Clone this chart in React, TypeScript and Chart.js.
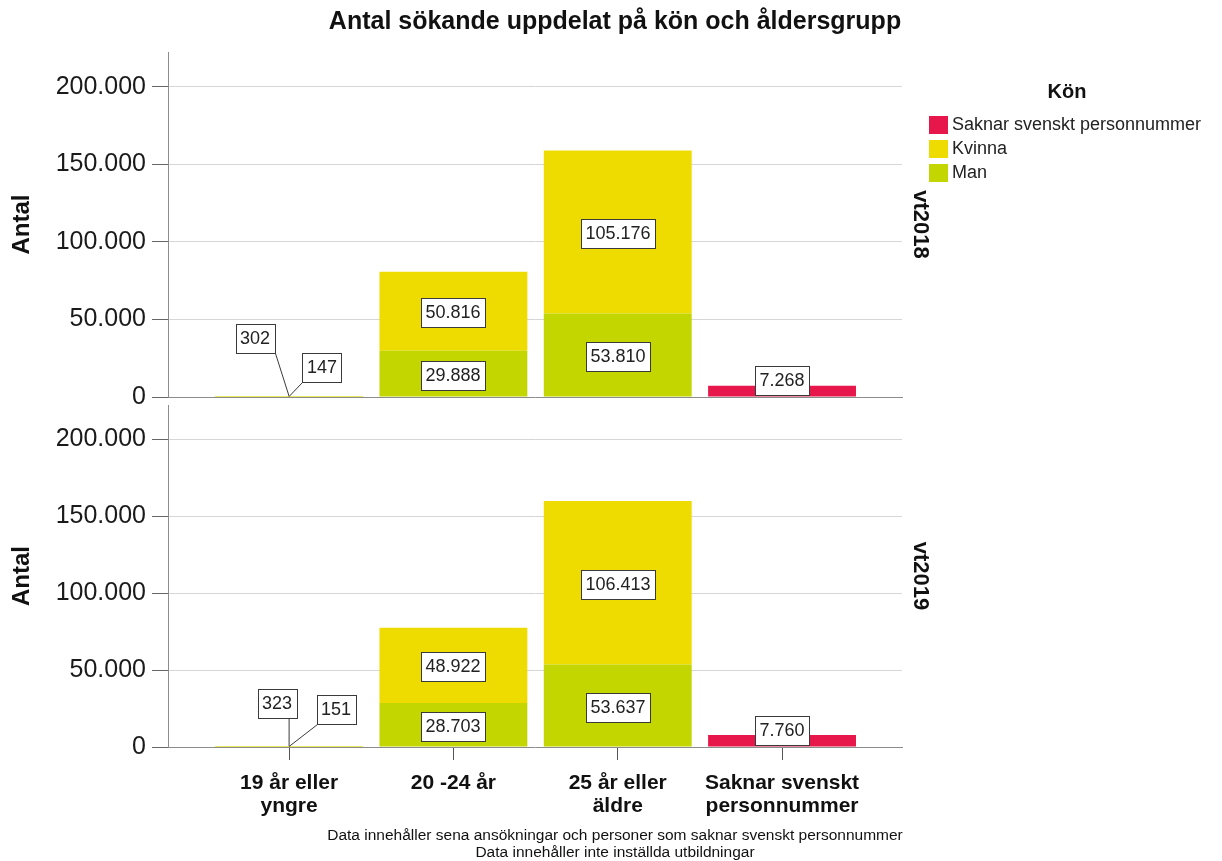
import React, { useEffect, useRef } from 'react';
import { Chart, registerables } from 'chart.js';

Chart.register(...registerables);

const FONT = "'Liberation Sans', Arial, Helvetica, sans-serif";
Chart.defaults.font.family = FONT;
Chart.defaults.color = '#111111';

// ---------- data ----------
const chartTitle = 'Antal sökande uppdelat på kön och åldersgrupp';
const footnote = [
  'Data innehåller sena ansökningar och personer som saknar svenskt personnummer',
  'Data innehåller inte inställda utbildningar',
];
const categories = [
  ['19 år eller', 'yngre'],
  ['20 -24 år'],
  ['25 år eller', 'äldre'],
  ['Saknar svenskt', 'personnummer'],
];
const panels = ['vt2018', 'vt2019'];
const yAxisTitle = 'Antal';
const legendTitle = 'Kön';
const seriesNames = ['Man', 'Kvinna', 'Saknar svenskt personnummer'];
const seriesColors = ['#C4D600', '#EEDB00', '#E8174B'];
const yTicks = [0, 50000, 100000, 150000, 200000];
const yMax = 222500;

const man2018 = [147, 29888, 53810, null];
const kvinna2018 = [302, 50816, 105176, null];
const saknar2018 = [null, null, null, 7268];
const man2019 = [151, 28703, 53637, null];
const kvinna2019 = [323, 48922, 106413, null];
const saknar2019 = [null, null, null, 7760];

const panelSeries = [
  [man2018, kvinna2018, saknar2018],
  [man2019, kvinna2019, saknar2019],
];

// ---------- helpers ----------
function fmt(v: number): string {
  return String(Math.round(v)).replace(/\B(?=(\d{3})+(?!\d))/g, '.');
}

function toPoints(arr: (number | null)[]) {
  const out: { x: number; y: number }[] = [];
  arr.forEach((v, i) => {
    if (v != null) out.push({ x: i, y: v });
  });
  return out;
}

const boxLabels = {
  id: 'boxLabels',
  afterDatasetsDraw(chart: any, _args: any, opts: any) {
    const { ctx, chartArea } = chart;
    ctx.save();
    ctx.font = `${opts.fontSize}px ${FONT}`;
    ctx.textAlign = 'center';
    ctx.textBaseline = 'middle';
    ctx.lineWidth = 1;
    chart.data.datasets.forEach((ds: any, di: number) => {
      const meta = chart.getDatasetMeta(di);
      if (meta.hidden) return;
      meta.data.forEach((el: any, i: number) => {
        const pt = ds.data[i];
        if (!pt) return;
        const text = fmt(pt.y);
        const w = Math.round(ctx.measureText(text).width + 2 * opts.padX);
        const h = opts.boxH;
        const top = Math.min(el.y, el.base);
        const bottom = Math.max(el.y, el.base);
        const off = opts.callouts[di + ':' + i];
        let cx = el.x;
        let cy;
        if (off) {
          cx = el.x + off[0];
          cy = top + off[1];
        } else {
          cy = (top + bottom) / 2 + opts.shiftY;
          cy = Math.min(cy, chartArea.bottom - opts.minGap - h / 2);
        }
        const bx = Math.round(cx - w / 2) + 0.5;
        const by = Math.round(cy - h / 2) + 0.5;
        if (off) {
          const ax = el.x;
          const ay = top;
          const sx = Math.max(bx, Math.min(ax, bx + w));
          const sy = Math.max(by, Math.min(ay, by + h));
          ctx.strokeStyle = opts.lineColor;
          ctx.beginPath();
          ctx.moveTo(sx, sy);
          ctx.lineTo(ax, ay);
          ctx.stroke();
        }
        ctx.fillStyle = '#ffffff';
        ctx.fillRect(bx, by, w, h);
        ctx.strokeStyle = opts.borderColor;
        ctx.strokeRect(bx, by, w, h);
        ctx.fillStyle = opts.color;
        ctx.fillText(text, Math.round(cx), by + h / 2 + 0.5);
      });
    });
    ctx.restore();
  },
};

const sideLegend = {
  id: 'sideLegend',
  afterDraw(chart: any, _args: any, opts: any) {
    if (!opts.show) return;
    const ctx = chart.ctx;
    const x0 = chart.chartArea.right + opts.insetX;
    ctx.save();
    ctx.textBaseline = 'middle';
    ctx.fillStyle = '#111111';
    ctx.font = `bold ${opts.titleSize}px ${FONT}`;
    ctx.textAlign = 'center';
    ctx.fillText(opts.title, x0 + opts.titleDx, opts.titleY);
    ctx.font = `${opts.fontSize}px ${FONT}`;
    ctx.textAlign = 'left';
    const items = chart.data.datasets
      .map((d: any) => ({ label: d.label, color: d.backgroundColor }))
      .reverse();
    items.forEach((it: any, k: number) => {
      const cy = opts.firstY + k * opts.rowH;
      ctx.fillStyle = it.color;
      ctx.fillRect(x0, Math.round(cy - opts.boxH / 2), opts.boxW, opts.boxH);
      ctx.fillStyle = '#222222';
      ctx.fillText(it.label, x0 + opts.boxW + opts.gap, cy);
    });
    ctx.restore();
  },
};

const xMin = -0.737;
const xMax = 3.73;

function makeConfig(p: number): any {
  const isTop = p === 0;
  const [man, kvinna, saknar] = panelSeries[p];
  const datasets = [
    { label: seriesNames[0], data: toPoints(man), backgroundColor: seriesColors[0] },
    { label: seriesNames[1], data: toPoints(kvinna), backgroundColor: seriesColors[1] },
    { label: seriesNames[2], data: toPoints(saknar), backgroundColor: seriesColors[2] },
  ].map((d) => ({ ...d, borderWidth: 0, barPercentage: 0.9, categoryPercentage: 1.0 }));

  const callouts = isTop
    ? { '1:0': [-34, -57.5], '0:0': [32.5, -29.5] }
    : { '1:0': [-12, -42.5], '0:0': [47, -37] };

  const axisGray = '#8c8c8c';

  const xScale: any = {
    type: 'linear',
    min: xMin,
    max: xMax,
    offset: false,
    stacked: true,
    afterBuildTicks: (s: any) => {
      s.ticks = categories.map((_, i) => ({ value: i }));
    },
    border: { display: true, color: axisGray, width: 1 },
  };
  if (isTop) {
    Object.assign(xScale, {
      afterFit: (s: any) => {
        s.height = 0;
      },
      ticks: { display: false },
      grid: { display: false, drawTicks: false, offset: false },
    });
  } else {
    Object.assign(xScale, {
      afterFit: (s: any) => {
        s.height = 70;
      },
      ticks: {
        display: true,
        autoSkip: false,
        maxRotation: 0,
        minRotation: 0,
        padding: 12,
        color: '#111111',
        font: { size: 21, weight: 'bold', lineHeight: 1.1 },
        callback: (v: number) => categories[v],
      },
      grid: {
        display: true,
        offset: false,
        drawOnChartArea: false,
        drawTicks: true,
        tickLength: 13,
        tickColor: '#555555',
        color: '#555555',
      },
    });
  }

  return {
    type: 'bar',
    data: { datasets },
    plugins: [boxLabels, sideLegend],
    options: {
      responsive: false,
      animation: false,
      events: [],
      layout: {
        padding: isTop
          ? { top: 0, right: 0, bottom: 464, left: 8 }
          : { top: 405, right: 0, bottom: 0, left: 8 },
      },
      scales: {
        x: xScale,
        y: {
          type: 'linear',
          position: 'left',
          min: 0,
          max: yMax,
          stacked: true,
          afterFit: (s: any) => {
            s.width = 160;
          },
          afterBuildTicks: (s: any) => {
            s.ticks = yTicks.map((v) => ({ value: v }));
          },
          ticks: {
            font: { size: 25 },
            color: '#1a1a1a',
            padding: 6,
            callback: (v: number) => fmt(v),
          },
          grid: {
            color: (c: any) => (c.tick && c.tick.value === 0 ? 'rgba(0,0,0,0)' : '#d6d6d6'),
            tickColor: '#666666',
            tickLength: 16,
            lineWidth: 1,
          },
          border: { display: true, color: axisGray, width: 1 },
          title: {
            display: true,
            text: yAxisTitle,
            color: '#111111',
            font: { size: 24, weight: 'bold' },
            padding: { top: 0, bottom: 0 },
          },
        },
        yr: {
          type: 'linear',
          position: 'right',
          display: true,
          afterFit: (s: any) => {
            s.width = 320;
          },
          ticks: { display: false },
          grid: { display: false, drawTicks: false },
          border: { display: false },
          title: {
            display: true,
            text: panels[p],
            color: '#111111',
            font: { size: 22, weight: 'bold' },
            padding: { top: 288.8, bottom: 0 },
          },
        },
      },
      plugins: {
        legend: { display: false },
        tooltip: { enabled: false },
        title: {
          display: isTop,
          text: chartTitle,
          color: '#111111',
          font: { size: 25, weight: 'bold' },
          padding: { top: 7, bottom: 15 },
        },
        subtitle: {
          display: !isTop,
          position: 'bottom',
          text: footnote,
          color: '#111111',
          font: { size: 15.5, weight: 'normal', lineHeight: '17px' },
          padding: { top: 10, bottom: 0 },
        },
        boxLabels: {
          fontSize: 18,
          padX: 4.5,
          boxH: 29,
          shiftY: 1.5,
          minGap: 2,
          color: '#222222',
          borderColor: '#3a3a3a',
          lineColor: '#3a3a3a',
          callouts,
        },
        sideLegend: {
          show: isTop,
          title: legendTitle,
          titleSize: 20,
          titleDx: 138,
          titleY: 92,
          insetX: 27,
          firstY: 125,
          rowH: 24,
          boxW: 19,
          boxH: 18,
          gap: 4,
          fontSize: 18,
        },
      },
    },
  };
}

export default function App() {
  const topRef = useRef<HTMLCanvasElement>(null);
  const botRef = useRef<HTMLCanvasElement>(null);

  useEffect(() => {
    const c1 = new Chart(topRef.current as HTMLCanvasElement, makeConfig(0));
    const c2 = new Chart(botRef.current as HTMLCanvasElement, makeConfig(1));
    return () => {
      c1.destroy();
      c2.destroy();
    };
  }, []);

  const cstyle: any = { position: 'absolute', left: 0, top: 0, width: 1222, height: 861 };
  return (
    <div style={{ position: 'absolute', left: 0, top: 0, width: 1222, height: 861, background: '#ffffff' }}>
      <canvas ref={botRef} width={1222} height={861} style={cstyle} />
      <canvas ref={topRef} width={1222} height={861} style={cstyle} />
    </div>
  );
}
